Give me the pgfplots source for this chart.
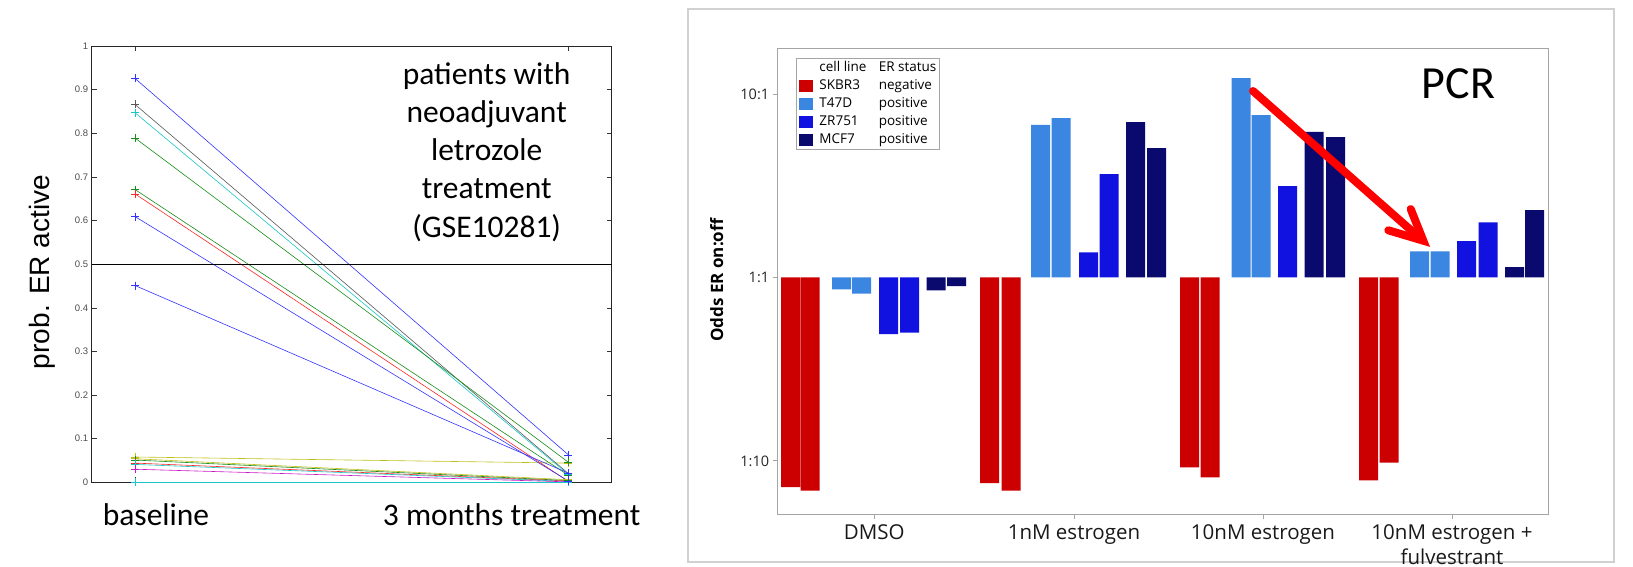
\documentclass[border=0pt]{standalone}
\usepackage{pgfplots}
\pgfplotsset{compat=1.18}
\usepackage{fontspec}
\setmainfont{Carlito}
\newfontfamily\osans{Open Sans}
\newfontfamily\lsans{Liberation Sans}
\definecolor{cSK}{RGB}{204,0,0}
\definecolor{cTD}{RGB}{59,134,224}
\definecolor{cZR}{RGB}{18,18,224}
\definecolor{cMC}{RGB}{10,10,110}
\definecolor{mB}{rgb}{0.2,0.2,1}
\definecolor{mG}{rgb}{0.1,0.55,0.1}
\definecolor{mR}{rgb}{1,0.15,0.15}
\definecolor{mC}{rgb}{0.1,0.78,0.78}
\definecolor{mM}{rgb}{0.78,0.1,0.78}
\definecolor{mY}{rgb}{0.75,0.75,0.1}
\definecolor{mK}{rgb}{0.35,0.35,0.35}
\definecolor{frame}{RGB}{165,165,165}
\begin{document}
\begin{tikzpicture}[x=1pt,y=1pt]
\useasboundingbox (0,0) rectangle (1633,566);
\clip (0,0) rectangle (1633,566);
% ---------------- left panel ----------------
\begin{axis}[
  at={(91.7pt,83.7pt)}, anchor=south west,
  width=520pt, height=436.3pt, scale only axis,
  xmin=0.9, xmax=2.1, ymin=0, ymax=1,
  xtick={1,2}, xticklabels={,},
  ytick={0,0.1,0.2,0.3,0.4,0.5,0.6,0.7,0.8,0.9,1},
  yticklabels={0,0.1,0.2,0.3,0.4,0.5,0.6,0.7,0.8,0.9,1},
  tick align=inside, major tick length=5pt,
  tick style={black!80, line width=0.5pt},
  axis line style={black!85, line width=0.9pt},
  yticklabel style={font=\lsans\fontsize{9.5}{10}\selectfont, text=black!70},
  every axis plot/.append style={line width=0.6pt, mark=+, mark size=4pt, mark options={solid}},
]
\addplot[mY] coordinates {(1,0.058) (2,0.044)};
\addplot[mY] coordinates {(1,0.054) (2,0.006)};
\addplot[mG] coordinates {(1,0.051) (2,0.004)};
\addplot[mR] coordinates {(1,0.044) (2,0.003)};
\addplot[mC] coordinates {(1,0.041) (2,0.002)};
\addplot[mM] coordinates {(1,0.030) (2,0.001)};
\addplot[mK] coordinates {(1,0.0) (2,0.0)};
\addplot[mC] coordinates {(1,0.0) (2,0.0)};
\addplot[mB] coordinates {(1,0.9257) (2,0.063)};
\addplot[mK] coordinates {(1,0.866) (2,0.020)};
\addplot[mC] coordinates {(1,0.847) (2,0.018)};
\addplot[mG] coordinates {(1,0.789) (2,0.046)};
\addplot[mG] coordinates {(1,0.671) (2,0.016)};
\addplot[mR] coordinates {(1,0.661) (2,0.002)};
\addplot[mB] coordinates {(1,0.609) (2,0.003)};
\addplot[mB] coordinates {(1,0.451) (2,0.021)};
\addplot[black, no marks, line width=0.8pt] coordinates {(0.9,0.5) (2.1,0.5)};
\end{axis}
\node[rotate=90, anchor=base, font=\lsans\fontsize{28}{30}\selectfont] at (49.3,294) {prob. ER active};
\begin{scope}[every node/.style={anchor=base, font=\fontsize{31.5}{38}\selectfont}]
\node at (486.7,481) {patients with};
\node at (486.7,443) {neoadjuvant};
\node at (486.7,405) {letrozole};
\node at (486.7,367) {treatment};
\node at (486.7,329) {(GSE10281)};
\node at (156,41) {baseline};
\node at (511.7,41) {3 months treatment};
\end{scope}
% ---------------- right panel ----------------
\draw[black!18, line width=1.5pt] (688,557) rectangle (1614,4);
\begin{axis}[
  at={(777.7pt,51.7pt)}, anchor=south west,
  width=771pt, height=466pt, scale only axis,
  ymode=log, ymin=0.0512, ymax=17.75, xmin=777.7, xmax=1548.7,
  ytick={0.1,1,10}, yticklabels={1:10,1:1,10:1},
  yminorticks=false,
  xtick={874.3,1074,1263,1452},
  xticklabels={DMSO,1nM estrogen,10nM estrogen,{\begin{tabular}[t]{@{}c@{}}10nM estrogen +\\fulvestrant\end{tabular}}},
  xtick pos=left, ytick pos=left,
  tick align=outside, major tick length=5pt,
  tick style={frame, line width=1pt},
  axis line style={frame, line width=1.3pt},
  yticklabel style={font=\osans\fontsize{14.5}{16}\selectfont, text=black!85},
  xticklabel style={font=\osans\fontsize{20.5}{25}\selectfont, text=black!90, anchor=base, yshift=-20pt},
  ybar, bar width=19, bar shift=0pt,
  every axis plot/.append style={draw=none},
  legend style={at={(0.0237,0.9792)}, anchor=north west, draw=frame, line width=1pt,
    font=\osans\fontsize{13.5}{15}\selectfont, inner xsep=3pt, inner ysep=3pt,
    nodes={inner sep=0pt, text height=10.5pt, text depth=3pt}, row sep=4.5pt,
    column sep=6pt, cells={anchor=west}},
  legend image code/.code={\fill[#1,draw=none] (0pt,-6pt) rectangle (14pt,6pt);},
]
\addlegendimage{empty legend}
\addlegendentry{\makebox[59.3pt][l]{cell line}ER status}
\addplot[fill=cSK] coordinates {(790.5,0.0720) (810.2,0.069) (989.5,0.0757) (1011,0.069) (1189.5,0.0922) (1210,0.0813) (1368.5,0.0783) (1389,0.098)};
\addlegendentry{\makebox[59.3pt][l]{SKBR3}negative}
\addplot[fill=cTD] coordinates {(841.5,0.861) (861.5,0.818) (1040.5,6.78) (1061,7.40) (1241,12.2) (1261,7.68) (1419.5,1.39) (1440,1.39)};
\addlegendentry{\makebox[59.3pt][l]{T47D}positive}
\addplot[fill=cZR] coordinates {(888.5,0.491) (909.5,0.501) (1088.5,1.37) (1109,3.66) (1287.5,3.15) (1466.5,1.58) (1488,2.00)};
\addlegendentry{\makebox[59.3pt][l]{ZR751}positive}
\addplot[fill=cMC] coordinates {(936,0.850) (956.5,0.897) (1135.5,7.03) (1156.5,5.07) (1314,6.21) (1335.5,5.83) (1514.5,1.14) (1534.5,2.33)};
\addlegendentry{\makebox[59.3pt][l]{MCF7}positive}
\end{axis}
\node[rotate=90, anchor=base, font=\osans\bfseries\fontsize{17}{19}\selectfont] at (723,286) {Odds ER on:off};
\node[anchor=base, font=\fontsize{46}{50}\selectfont] at (1458.5,467.7) {PCR};
\draw[red, line width=8pt, line cap=round] (1253,475) -- (1420,327.8);
\draw[red, line width=8pt, line cap=round, line join=miter] (1388.3,335.7) -- (1423.3,325.3) -- (1410.7,357);
\end{tikzpicture}
\end{document}
